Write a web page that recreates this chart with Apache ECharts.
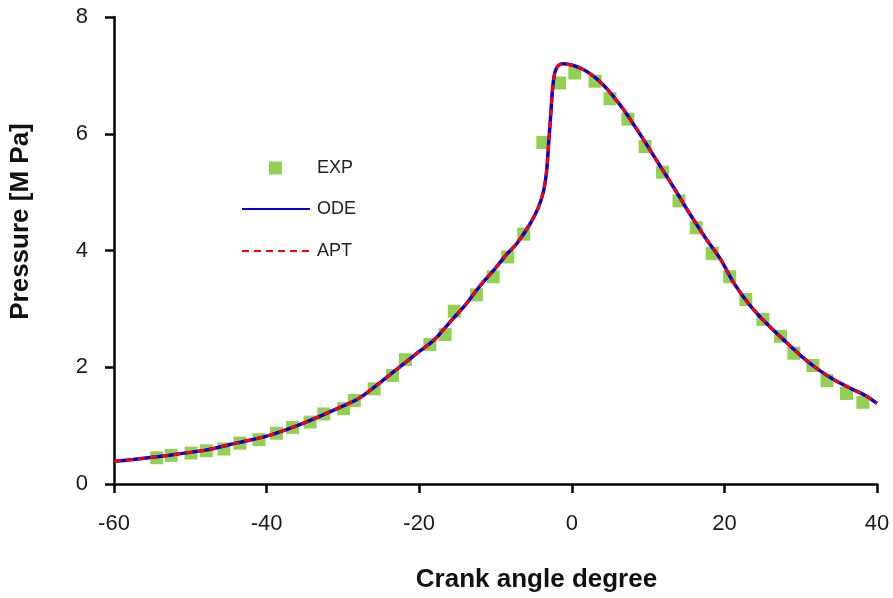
<!DOCTYPE html>
<html>
<head>
<meta charset="utf-8">
<script src="https://cdn.jsdelivr.net/npm/echarts@6/dist/echarts.min.js"></script>
<style>
html,body{margin:0;padding:0;background:#fff;}
#chart{width:893px;height:598px;}
</style>
</head>
<body>
<div id="chart"></div>
<script>
// Experimental points [crank angle, pressure]
const expData = [
  [-54.4,0.45],[-52.5,0.49],[-49.9,0.53],[-47.9,0.57],[-45.6,0.60],[-43.5,0.70],
  [-41.0,0.76],[-38.7,0.87],[-36.6,0.97],[-34.3,1.06],[-32.5,1.20],[-29.9,1.29],
  [-28.5,1.43],[-25.9,1.63],[-23.5,1.86],[-21.8,2.13],[-18.6,2.39],[-16.6,2.56],
  [-15.4,2.96],[-12.5,3.24],[-10.3,3.55],[-8.4,3.89],[-6.3,4.28],[-3.8,5.85],
  [-1.6,6.87],[0.4,7.04],[3.05,6.90],[5.0,6.60],[7.35,6.25],[9.6,5.78],
  [11.9,5.34],[14.05,4.85],[16.3,4.39],[18.4,3.95],[20.7,3.55],[22.8,3.16],
  [25.05,2.82],[27.35,2.53],[29.1,2.24],[31.6,2.03],[33.45,1.77],[36.0,1.55],[38.15,1.40]
];
// ODE model curve
const odeData = [
  [-60,0.39],[-57.5,0.42],[-53,0.49],[-48,0.58],[-44,0.70],[-40,0.82],[-36,1.00],
  [-32,1.22],[-28,1.46],[-25,1.75],[-22.5,2.01],[-20,2.27],[-18,2.47],[-16,2.77],
  [-14,3.06],[-12,3.40],[-10,3.70],[-8.5,3.94],[-7.2,4.12],[-5.5,4.45],[-4.4,4.73],
  [-3.7,5.02],[-3.3,5.36],[-3.05,5.80],[-2.75,6.35],[-2.5,6.80],[-2.2,7.06],
  [-1.75,7.17],[-1.1,7.2],[0.2,7.17],[1.5,7.10],[2.8,6.99],[4.1,6.84],[5.45,6.64],
  [6.8,6.41],[8.1,6.16],[9.4,5.90],[10.7,5.63],[12,5.36],[13.5,5.05],[15.5,4.62],
  [17.5,4.22],[19.5,3.85],[21.2,3.45],[23.3,3.07],[25.6,2.74],[28,2.44],[30,2.20],
  [32,1.99],[34.3,1.79],[36.5,1.64],[38.7,1.50],[40,1.38]
];
// APT model curve (coincides with ODE)
const aptData = odeData.map(p => [p[0], p[1]]);
const xTicks = {min:-60, max:40, interval:20};
const yTicks = {min:0, max:8, interval:2};

const FONT = 'Liberation Sans';
const chart = echarts.init(document.getElementById('chart'));
chart.setOption({
  animation:false,
  backgroundColor:'#fff',
  grid:{left:114, right:16, top:17, bottom:110},
  legend:[
    {data:[{name:'EXP', icon:'rect'}], left:264, top:154, itemWidth:13, itemHeight:13,
     textStyle:{fontFamily:FONT, fontSize:18, color:'#222', padding:[0,0,0,30]}},
    {data:['ODE','APT'], orient:'vertical', left:236, top:195,
     itemWidth:68, itemHeight:14, itemGap:24, itemStyle:{opacity:0},
     textStyle:{fontFamily:FONT, fontSize:18, color:'#222', padding:[0,0,0,2]}}
  ],
  xAxis:{
    type:'value', min:xTicks.min, max:xTicks.max, interval:xTicks.interval,
    name:'Crank angle degree', nameLocation:'middle', nameGap:83,
    nameTextStyle:{fontFamily:FONT, fontSize:26, fontWeight:'bold', color:'#111', padding:[0,0,0,82]},
    axisLine:{lineStyle:{color:'#000', width:2.5}, onZero:false},
    axisTick:{show:true, length:9, inside:false, lineStyle:{color:'#000', width:2.5}},
    axisLabel:{fontFamily:FONT, fontSize:22, color:'#1a1a1a', margin:29},
    splitLine:{show:false}
  },
  yAxis:{
    type:'value', min:yTicks.min, max:yTicks.max, interval:yTicks.interval,
    name:'Pressure [M Pa]', nameLocation:'middle', nameGap:80,
    nameTextStyle:{fontFamily:FONT, fontSize:26, fontWeight:'bold', color:'#111', padding:[0,0,0,58]},
    axisLine:{show:true, onZero:false, lineStyle:{color:'#000', width:2.5}},
    axisTick:{show:true, length:9, inside:false, lineStyle:{color:'#000', width:2.5}},
    axisLabel:{fontFamily:FONT, fontSize:22, color:'#1a1a1a', margin:26},
    splitLine:{show:false}
  },
  series:[
    {name:'EXP', type:'scatter', data:expData, symbol:'rect', symbolSize:13,
     itemStyle:{color:'#92D050', opacity:1}, z:2},
    {name:'ODE', type:'line', data:odeData, smooth:0.25, showSymbol:false, symbol:'none',
     lineStyle:{color:'#0000E0', width:3.5}, itemStyle:{color:'#0000E0'}, z:3},
    {name:'APT', type:'line', data:aptData, smooth:0.25, showSymbol:false, symbol:'none',
     lineStyle:{color:'#FF0000', width:3, type:[7,5]}, itemStyle:{color:'#FF0000'}, z:4}
  ]
});
</script>
</body>
</html>
